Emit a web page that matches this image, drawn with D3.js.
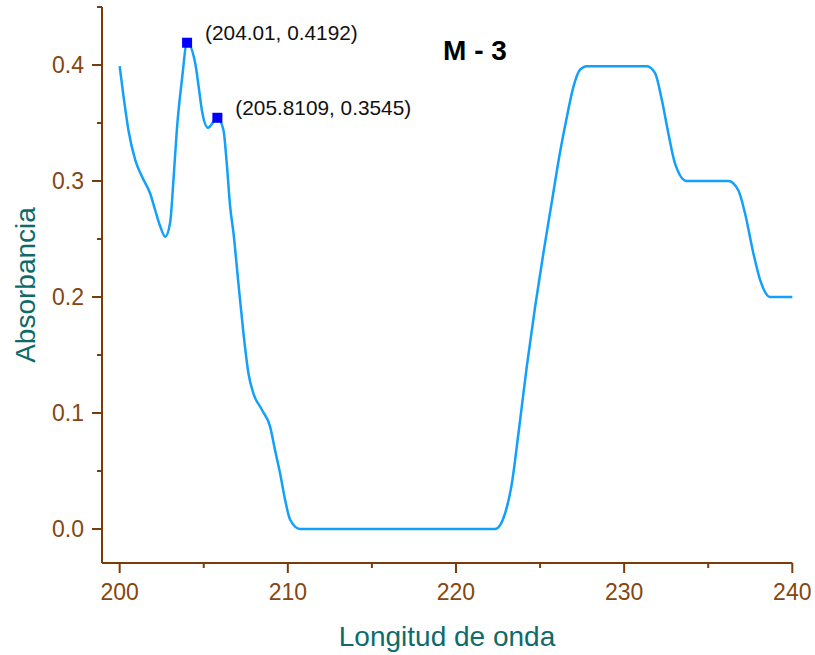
<!DOCTYPE html>
<html>
<head>
<meta charset="utf-8">
<script src="https://cdn.jsdelivr.net/npm/d3@7"></script>
<style>
  body { margin: 0; background: #fff; }
  svg { font-family: "Liberation Sans", Arial, sans-serif; }
</style>
</head>
<body>
<svg id="chart" width="815" height="655"></svg>
<script>
// Longitud de onda (nm) y absorbancia
var wavelength = [200, 200.23, 200.52, 200.93, 201.32, 201.82, 202.11, 202.41, 202.71, 203.0,
  203.2, 203.4, 203.7, 204.01, 204.5, 204.7, 204.89, 205.25, 205.81, 206.17, 206.37,
  206.57, 206.77, 207.06, 207.36, 207.66, 207.95, 208.45, 208.95, 209.24, 209.54,
  209.84, 210.14, 210.73, 222.33, 222.92, 223.32, 223.72, 224.21, 224.71, 225.2,
  225.7, 226.19, 226.59, 226.98, 227.38, 227.78, 231.35, 231.84, 232.24, 232.63,
  233.03, 233.72, 236.2, 236.79, 237.19, 237.68, 238.08, 238.67, 240];
var absorbance = [0.399, 0.373, 0.344, 0.318, 0.304, 0.289, 0.275, 0.261, 0.252, 0.264,
  0.301, 0.344, 0.387, 0.4192, 0.401, 0.381, 0.361, 0.346, 0.3545, 0.344, 0.315,
  0.278, 0.255, 0.212, 0.169, 0.134, 0.117, 0.103, 0.088, 0.068, 0.048,
  0.025, 0.008, 0, 0, 0.0135, 0.039, 0.083, 0.14, 0.192, 0.238,
  0.282, 0.325, 0.355, 0.381, 0.396, 0.399, 0.399, 0.393, 0.37, 0.341,
  0.315, 0.3, 0.3, 0.292, 0.272, 0.238, 0.215, 0.2, 0.2];

// puntos marcados
var markX = [204.01, 205.8109];
var markY = [0.4192, 0.3545];
var markLabels = ["(204.01, 0.4192)", "(205.8109, 0.3545)"];

var xTicks = [200, 210, 220, 230, 240];
var xMinor = [205, 215, 225, 235];
var yTicks = [0.0, 0.1, 0.2, 0.3, 0.4];
var yMinor = [0.05, 0.15, 0.25, 0.35, 0.45];

var axisColor = "#7a3d0a";
var labelColor = "#86460f";
var titleColor = "#0e6b6b";

var svg = d3.select("#chart");

var x = d3.scaleLinear().domain([198.95, 240]).range([102, 792.3]);
var y = d3.scaleLinear().domain([-0.0293, 0.45]).range([563, 7]);

var data = wavelength.map(function(w, i) { return [w, absorbance[i]]; });

// eje x
var xAxis = svg.append("g").attr("transform", "translate(0,563)");
xAxis.append("line").attr("x1", x.range()[0]).attr("x2", x.range()[1])
  .attr("stroke", axisColor).attr("stroke-width", 2);
xAxis.selectAll(".maj").data(xTicks).enter().append("line")
  .attr("x1", function(d){ return x(d); }).attr("x2", function(d){ return x(d); })
  .attr("y1", 0).attr("y2", 10).attr("stroke", axisColor).attr("stroke-width", 2);
xAxis.selectAll(".min").data(xMinor).enter().append("line")
  .attr("x1", function(d){ return x(d); }).attr("x2", function(d){ return x(d); })
  .attr("y1", 0).attr("y2", 5).attr("stroke", axisColor).attr("stroke-width", 2);
xAxis.selectAll("text").data(xTicks).enter().append("text")
  .attr("x", function(d){ return x(d); }).attr("y", 37)
  .attr("text-anchor", "middle").attr("font-size", 23).attr("fill", labelColor)
  .text(function(d){ return d; });

// eje y
var yAxis = svg.append("g").attr("transform", "translate(102,0)");
yAxis.append("line").attr("y1", y.range()[0]).attr("y2", y.range()[1])
  .attr("stroke", axisColor).attr("stroke-width", 2);
yAxis.selectAll(".maj").data(yTicks).enter().append("line")
  .attr("y1", function(d){ return y(d); }).attr("y2", function(d){ return y(d); })
  .attr("x1", 0).attr("x2", -10).attr("stroke", axisColor).attr("stroke-width", 2);
yAxis.selectAll(".min").data(yMinor).enter().append("line")
  .attr("y1", function(d){ return y(d); }).attr("y2", function(d){ return y(d); })
  .attr("x1", 0).attr("x2", -5).attr("stroke", axisColor).attr("stroke-width", 2);
yAxis.selectAll("text").data(yTicks).enter().append("text")
  .attr("x", -18).attr("y", function(d){ return y(d); }).attr("dy", "0.36em")
  .attr("text-anchor", "end").attr("font-size", 23).attr("fill", labelColor)
  .text(function(d){ return d.toFixed(1); });

// titulos
svg.append("text").attr("x", 447).attr("y", 646).attr("text-anchor", "middle")
  .attr("font-size", 28).attr("fill", titleColor).text("Longitud de onda");
svg.append("text").attr("transform", "translate(35,285) rotate(-90)")
  .attr("text-anchor", "middle").attr("font-size", 28).attr("fill", titleColor)
  .text("Absorbancia");
svg.append("text").attr("x", 475).attr("y", 60).attr("text-anchor", "middle")
  .attr("font-size", 28).attr("font-weight", "bold").attr("fill", "#000")
  .text("M - 3");

// curva
var line = d3.line()
  .x(function(d){ return x(d[0]); })
  .y(function(d){ return y(d[1]); })
  .curve(d3.curveMonotoneX);

svg.append("path").datum(data).attr("d", line)
  .attr("fill", "none").attr("stroke", "#12a0fb").attr("stroke-width", 2.5);

// marcadores
markX.forEach(function(mx, i) {
  svg.append("rect")
    .attr("x", x(mx) - 5).attr("y", y(markY[i]) - 5)
    .attr("width", 10).attr("height", 10).attr("fill", "#0000ff");
  svg.append("text")
    .attr("x", x(mx) + 18).attr("y", y(markY[i]) - 3)
    .attr("font-size", 20.8).attr("fill", "#111")
    .text(markLabels[i]);
});
</script>
</body>
</html>
